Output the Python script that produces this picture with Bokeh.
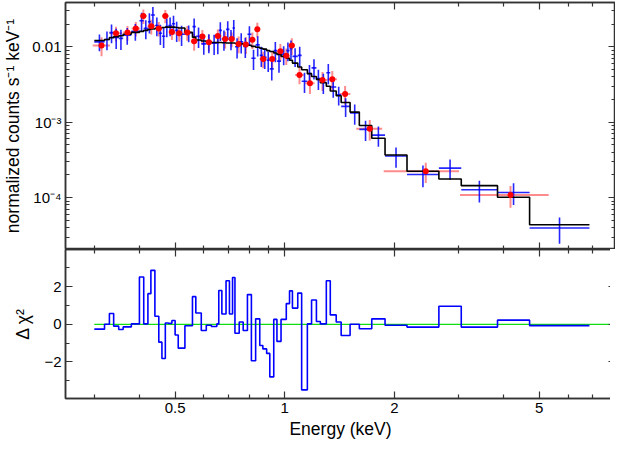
import math
from bokeh.plotting import figure
from bokeh.layouts import column
from bokeh.models import Range1d, LogAxis, LinearAxis, FixedTicker, ColumnDataSource, CustomJSTickFormatter
from bokeh.embed import file_html
from bokeh.resources import INLINE

FONT = "Liberation Sans"

# ---- blue data set: channel bin edges (keV), flux, relative error, model, residuals ----
e_edges = [0.300, 0.320, 0.330, 0.339, 0.350, 0.360, 0.379, 0.399, 0.410, 0.421,
           0.429, 0.440, 0.451, 0.460, 0.470, 0.479, 0.490, 0.500, 0.510, 0.532,
           0.558, 0.570, 0.590, 0.609, 0.629, 0.651, 0.659, 0.672, 0.690, 0.705,
           0.719, 0.730, 0.750, 0.769, 0.790, 0.810, 0.832, 0.854, 0.871, 0.892,
           0.910, 0.933, 0.952, 0.977, 1.010, 1.031, 1.050, 1.086, 1.113, 1.154,
           1.185, 1.222, 1.253, 1.301, 1.334, 1.385, 1.429, 1.512, 1.603, 1.734,
           1.886, 2.167, 2.651, 3.054, 3.841, 4.705, 6.870]

model = [0.0121, 0.01246, 0.0132, 0.0136, 0.0140, 0.01464, 0.0155, 0.0160, 0.0165, 0.0170,
         0.0172, 0.0175, 0.0177, 0.0180, 0.0182, 0.0182, 0.0182, 0.0180, 0.0177, 0.0155,
         0.0134, 0.0123, 0.0119, 0.0116, 0.0114, 0.0114, 0.0114, 0.0113, 0.0112, 0.0112,
         0.0112, 0.0111, 0.0109, 0.0108, 0.01045, 0.0101, 0.00985, 0.00957, 0.00929, 0.00889,
         0.00864, 0.00826, 0.00791, 0.00746, 0.00703, 0.00663, 0.00607, 0.00540, 0.00495, 0.00440,
         0.00403, 0.00369, 0.00333, 0.00300, 0.00259, 0.00224, 0.00182, 0.00136, 0.000902, 0.000611,
         0.000367, 0.000223, 0.000176, 0.000144, 0.000101, 0.0000436]

blue_y = [0.0116, 0.01246, 0.0154, 0.0133, 0.0129, 0.0142, 0.0160, 0.0221, 0.0175, 0.0214,
          0.0263, 0.0191, 0.0151, 0.0138, 0.0185, 0.0191, 0.0202, 0.0165, 0.01464, 0.0153,
          0.0185, 0.0138, 0.0109, 0.0114, 0.0111, 0.0114, 0.0165, 0.01264, 0.0170, 0.0128,
          0.0177, 0.0100, 0.0116, 0.0101, 0.01464, 0.00703, 0.0106, 0.00768, 0.00724, 0.00663,
          0.00509, 0.00889, 0.00644, 0.00791, 0.00889, 0.00943, 0.00746, 0.00768, 0.00348, 0.00440,
          0.00524, 0.00380, 0.00338, 0.00453, 0.00292, 0.00231, 0.00162, 0.00132, 0.000802, 0.000673,
          0.000356, 0.000202, 0.000246, 0.000127, 0.000117, 0.0000395]

blue_rel = [0.25, 0.28, 0.28, 0.30, 0.30, 0.25, 0.25, 0.28, 0.28, 0.30,
            0.28, 0.28, 0.30, 0.30, 0.28, 0.28, 0.28, 0.30, 0.30, 0.25,
            0.28, 0.30, 0.28, 0.28, 0.30, 0.30, 0.28, 0.30, 0.28, 0.30,
            0.28, 0.30, 0.30, 0.30, 0.28, 0.30, 0.30, 0.30, 0.30, 0.30,
            0.30, 0.30, 0.30, 0.28, 0.28, 0.28, 0.28, 0.30, 0.30, 0.30,
            0.30, 0.30, 0.30, 0.30, 0.28, 0.28, 0.28, 0.30, 0.30, 0.30,
            0.30, 0.32, 0.30, 0.32, 0.32, 0.38]

resid = [-0.26, 0.00, 0.57, -0.10, -0.28, -0.14, 0.02, 2.52, 0.02, 1.63,
         2.87, 0.43, -0.95, -1.82, 0.07, 0.05, 0.20, -0.57, -1.27, -0.08,
         1.47, 0.60, -0.33, -0.05, -0.12, 0.02, 1.80, 0.55, 2.32, 0.55,
         2.49, -0.48, 0.12, -0.33, 1.58, -1.94, 0.29, -1.13, -1.31, -1.55,
         -2.80, 0.26, -0.91, 0.26, 1.10, 1.78, 0.86, 1.66, -3.49, 0.02,
         1.29, 0.15, 0.02, 2.32, 0.50, 0.12, -0.60, 0.00, -0.24, 0.29,
         -0.05, -0.15, 0.96, -0.15, 0.22, -0.07]

# ---- red data set ----
red_e = [0.314, 0.344, 0.370, 0.390, 0.409, 0.430, 0.451, 0.470, 0.490, 0.513,
         0.540, 0.564, 0.594, 0.619, 0.655, 0.686, 0.715, 0.747, 0.782, 0.815,
         0.841, 0.873, 0.924, 0.973, 1.010, 1.046, 1.098, 1.173, 1.270, 1.351,
         1.465, 1.712, 2.44, 4.17]
red_ex = [0.017, 0.014, 0.010, 0.010, 0.009, 0.010, 0.010, 0.010, 0.010, 0.012,
          0.013, 0.012, 0.013, 0.013, 0.015, 0.015, 0.015, 0.016, 0.016, 0.017,
          0.012, 0.020, 0.025, 0.025, 0.022, 0.022, 0.030, 0.035, 0.040, 0.040,
          0.050, 0.140, 0.57, 1.14]
red_y = [0.0104, 0.01508, 0.0154, 0.0175, 0.0256, 0.0187, 0.0175, 0.0256, 0.0157, 0.0151,
         0.0154, 0.0118, 0.0137, 0.0115, 0.0139, 0.01264, 0.01264, 0.0109, 0.0107, 0.0124,
         0.0170, 0.00689, 0.00689, 0.00871, 0.00761, 0.0104, 0.00423, 0.00328, 0.00361, 0.00372,
         0.00236, 0.000819, 0.000223, 0.000108]
red_rel = [0.28, 0.22, 0.22, 0.22, 0.22, 0.22, 0.22, 0.20, 0.22, 0.22,
           0.22, 0.25, 0.22, 0.25, 0.22, 0.25, 0.22, 0.25, 0.25, 0.25,
           0.22, 0.25, 0.25, 0.25, 0.25, 0.25, 0.25, 0.28, 0.28, 0.28,
           0.28, 0.30, 0.30, 0.32]

x_ticks = [0.5, 1, 2, 5]
x_minor = [0.3, 0.4, 0.6, 0.7, 0.8, 0.9, 3, 4, 6, 7]
y_ticks = [1e-4, 1e-3, 1e-2]
y_labels = {1e-4: "10\u207b\u2074", 1e-3: "10\u207b\u00b3", 1e-2: "0.01"}
y_minor = [k * 10.0 ** d for d in (-5, -4, -3, -2) for k in range(2, 10) if k * 10.0 ** d < 0.04]
r_ticks = [-2, 0, 2]
r_minor = [-3, -1, 1, 3]

AX = "#333333"
TICK_FS = "15px"
LABEL_FS = "17.5px"


def style(ax, labels=True):
    ax.axis_line_color = AX
    ax.axis_line_width = 1.5
    ax.major_tick_line_color = AX
    ax.minor_tick_line_color = AX
    ax.major_tick_line_width = 1.2
    ax.minor_tick_line_width = 1.2
    ax.major_tick_in = 7
    ax.major_tick_out = 0
    ax.minor_tick_in = 4
    ax.minor_tick_out = 0
    ax.major_label_text_font = FONT
    ax.major_label_text_font_size = TICK_FS
    ax.major_label_text_color = "black"
    ax.axis_label_text_font = FONT
    ax.axis_label_text_font_size = LABEL_FS
    ax.axis_label_text_font_style = "normal"
    ax.axis_label_text_color = "black"
    ax.major_label_standoff = 4
    if not labels:
        ax.formatter = CustomJSTickFormatter(code="return ''")
        ax.major_label_standoff = 0


xr = Range1d(0.25, 8.1)

# ---------------- top panel ----------------
p1 = figure(frame_width=550, frame_height=247, x_axis_type="log", y_axis_type="log",
            x_range=xr, y_range=Range1d(2.05e-5, 0.0386),
            output_backend="svg", toolbar_location=None,
            min_border_left=60, min_border_right=0, min_border_top=2, min_border_bottom=0)
p1.grid.visible = False
p1.outline_line_color = AX
p1.outline_line_width = 1.5

xt = FixedTicker(ticks=x_ticks, minor_ticks=x_minor)
yt = FixedTicker(ticks=y_ticks, minor_ticks=y_minor)
p1.xaxis.ticker = xt
p1.yaxis.ticker = yt
p1.yaxis.major_label_overrides = y_labels
p1.yaxis.axis_label = "normalized counts s\u207b\u00b9 keV\u207b\u00b9"
style(p1.xaxis[0], labels=False)
style(p1.yaxis[0])
p1.yaxis.axis_label_standoff = 6
ax_t = LogAxis(ticker=xt)
style(ax_t, labels=False)
p1.add_layout(ax_t, "above")
ax_r = LogAxis(ticker=yt)
style(ax_r, labels=False)
p1.add_layout(ax_r, "right")

lo = e_edges[:-1]
hi = e_edges[1:]
ctr = [math.sqrt(a * b) for a, b in zip(lo, hi)]
blue = ColumnDataSource(dict(
    lo=lo, hi=hi, x=ctr, y=blue_y,
    ylo=[v * (1 - r) for v, r in zip(blue_y, blue_rel)],
    yhi=[v * (1 + r) for v, r in zip(blue_y, blue_rel)]))
red = ColumnDataSource(dict(
    x=red_e, y=red_y,
    xlo=[e - d for e, d in zip(red_e, red_ex)],
    xhi=[e + d for e, d in zip(red_e, red_ex)],
    ylo=[v * (1 - r) for v, r in zip(red_y, red_rel)],
    yhi=[v * (1 + r) for v, r in zip(red_y, red_rel)]))

# red error bars (light)
p1.segment("xlo", "y", "xhi", "y", source=red, line_color="#ff0000", line_alpha=0.45, line_width=2)
p1.segment("x", "ylo", "x", "yhi", source=red, line_color="#ff0000", line_alpha=0.45, line_width=2)
# blue crosses
p1.segment("lo", "y", "hi", "y", source=blue, line_color="#0000ff", line_alpha=0.85, line_width=1.6)
p1.segment("x", "ylo", "x", "yhi", source=blue, line_color="#0000ff", line_alpha=0.85, line_width=1.6)
# model
p1.step(e_edges, model + [model[-1]], mode="after", line_color="black", line_width=1.6)
# red points
p1.scatter("x", "y", source=red, size=6, color="#ff0000", line_width=0)

# ---------------- bottom panel ----------------
p2 = figure(frame_width=550, frame_height=149, x_axis_type="log",
            x_range=xr, y_range=Range1d(-3.95, 3.98),
            output_backend="svg", toolbar_location=None,
            min_border_left=60, min_border_right=0, min_border_top=0, min_border_bottom=2)
p2.grid.visible = False
p2.outline_line_color = AX
p2.outline_line_width = 1.5
rt = FixedTicker(ticks=r_ticks, minor_ticks=r_minor)
p2.xaxis.ticker = xt
p2.xaxis.major_label_overrides = {0.5: "0.5", 1: "1", 2: "2", 5: "5"}
p2.xaxis.axis_label = "Energy (keV)"
p2.yaxis.ticker = rt
p2.yaxis.major_label_overrides = {-2: "\u22122", 0: "0", 2: "2"}
p2.yaxis.axis_label = "\u0394 \u03c7\u00b2"
style(p2.xaxis[0])
style(p2.yaxis[0])
p2.xaxis.axis_label_standoff = 3
p2.yaxis.axis_label_standoff = 8
ax_t2 = LogAxis(ticker=xt)
style(ax_t2, labels=False)
p2.add_layout(ax_t2, "above")
ax_r2 = LinearAxis(ticker=rt)
style(ax_r2, labels=False)
p2.add_layout(ax_r2, "right")

p2.line([e_edges[0], xr.end], [0, 0], line_color="#11dd11", line_width=1.3)
p2.step(e_edges, resid + [resid[-1]], mode="after", line_color="#0000ff", line_width=1.6)

page = column(p1, p2, spacing=0)
open("out.html", "w").write(file_html(page, INLINE))
